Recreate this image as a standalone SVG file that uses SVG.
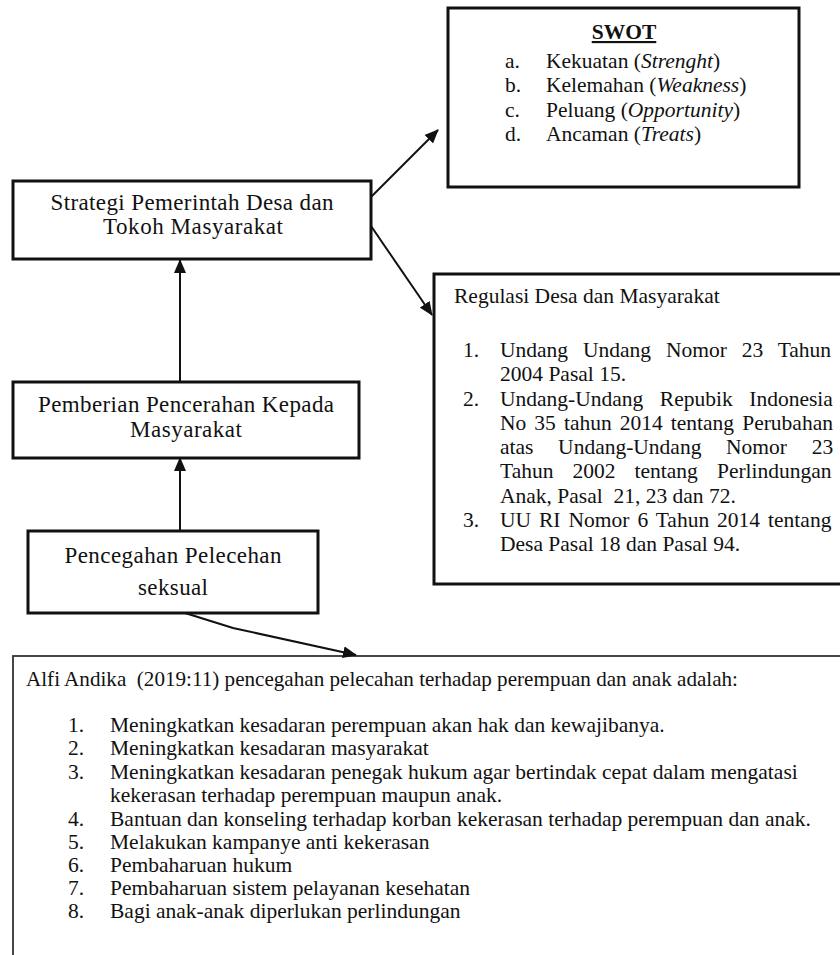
<svg xmlns="http://www.w3.org/2000/svg" width="840" height="955" viewBox="0 0 840 955">
<style>
text{font-family:"Liberation Serif","Times New Roman",serif;font-size:21.5px;fill:#111}
.big{font-size:23px}
.box{fill:#fff;stroke:#111;stroke-width:3}
.thin{fill:#fff;stroke:#333;stroke-width:1.8}
.c{text-anchor:middle}
.conn{fill:none;stroke:#111;stroke-width:2}
</style>
<defs>
<marker id="ah" markerUnits="userSpaceOnUse" markerWidth="14" markerHeight="12" refX="13" refY="6" orient="auto">
<path d="M0,0 L14,6 L0,12 z" fill="#111"/>
</marker>
</defs>
<rect width="840" height="955" fill="#fff"/>

<g id="swot">
<rect class="box" x="448" y="8" width="351" height="179"/>
<text class="c" x="624" y="39" font-weight="bold" text-decoration="underline">SWOT</text>
<text x="505" y="68">a.</text><text x="546" y="68">Kekuatan (<tspan font-style="italic">Strenght</tspan>)</text>
<text x="505" y="92">b.</text><text x="546" y="92">Kelemahan (<tspan font-style="italic">Weakness</tspan>)</text>
<text x="505" y="117">c.</text><text x="546" y="117">Peluang (<tspan font-style="italic">Opportunity</tspan>)</text>
<text x="505" y="141">d.</text><text x="546" y="141">Ancaman (<tspan font-style="italic">Treats</tspan>)</text>
</g>

<g id="strategi">
<rect class="box" x="13" y="181" width="358" height="78"/>
<text class="c big" x="192" y="210" textLength="283" lengthAdjust="spacing">Strategi Pemerintah Desa dan</text>
<text class="c big" x="193" y="234" textLength="180" lengthAdjust="spacing">Tokoh Masyarakat</text>
</g>

<g id="regulasi">
<rect class="box" x="434" y="274" width="420" height="310"/>
<text x="454" y="303">Regulasi Desa dan Masyarakat</text>
<text x="463" y="357">1.</text>
<text x="500" y="357" word-spacing="9.5">Undang Undang Nomor 23 Tahun</text>
<text x="500" y="381">2004 Pasal 15.</text>
<text x="463" y="406">2.</text>
<text x="500" y="406" word-spacing="11.2">Undang-Undang Repubik Indonesia</text>
<text x="500" y="430" word-spacing="2.7">No 35 tahun 2014 tentang Perubahan</text>
<text x="500" y="454" word-spacing="19.3">atas Undang-Undang Nomor 23</text>
<text x="500" y="478" word-spacing="13.7">Tahun 2002 tentang Perlindungan</text>
<text x="500" y="503" xml:space="preserve">Anak, Pasal  21, 23 dan 72.</text>
<text x="463" y="527">3.</text>
<text x="500" y="527" word-spacing="2.6">UU RI Nomor 6 Tahun 2014 tentang</text>
<text x="500" y="551">Desa Pasal 18 dan Pasal 94.</text>
</g>

<g id="pemberian">
<rect class="box" x="13" y="382" width="346" height="76"/>
<text class="c big" x="186" y="412" textLength="296" lengthAdjust="spacing">Pemberian Pencerahan Kepada</text>
<text class="c big" x="186" y="437" textLength="112" lengthAdjust="spacing">Masyarakat</text>
</g>

<g id="pencegahan">
<rect class="box" x="28" y="531" width="290" height="82"/>
<text class="c big" x="173" y="563" textLength="217" lengthAdjust="spacing">Pencegahan Pelecehan</text>
<text class="c big" x="173" y="595" textLength="70" lengthAdjust="spacing">seksual</text>
</g>

<g id="alfi">
<rect class="thin" x="13" y="656" width="850" height="320"/>
<text x="26" y="686" xml:space="preserve" textLength="712" lengthAdjust="spacingAndGlyphs">Alfi Andika  (2019:11) pencegahan pelecahan terhadap perempuan dan anak adalah:</text>
<text x="68" y="732">1.</text><text x="110" y="732">Meningkatkan kesadaran perempuan akan hak dan kewajibanya.</text>
<text x="68" y="755">2.</text><text x="110" y="755">Meningkatkan kesadaran masyarakat</text>
<text x="68" y="779">3.</text><text x="110" y="779">Meningkatkan kesadaran penegak hukum agar bertindak cepat dalam mengatasi</text>
<text x="110" y="802">kekerasan terhadap perempuan maupun anak.</text>
<text x="68" y="826">4.</text><text x="110" y="826">Bantuan dan konseling terhadap korban kekerasan terhadap perempuan dan anak.</text>
<text x="68" y="849">5.</text><text x="110" y="849">Melakukan kampanye anti kekerasan</text>
<text x="68" y="872">6.</text><text x="110" y="872">Pembaharuan hukum</text>
<text x="68" y="895">7.</text><text x="110" y="895">Pembaharuan sistem pelayanan kesehatan</text>
<text x="68" y="918">8.</text><text x="110" y="918">Bagi anak-anak diperlukan perlindungan</text>
</g>

<g id="connectors">
<path class="conn" d="M371,197 L438,130" marker-end="url(#ah)"/>
<path class="conn" d="M371,226 L432,315" marker-end="url(#ah)"/>
<path class="conn" d="M180,382 L180,260" marker-end="url(#ah)"/>
<path class="conn" d="M180,531 L180,458" marker-end="url(#ah)"/>
<path class="conn" d="M185,613 L233,628 L356,655" marker-end="url(#ah)"/>
</g>
</svg>
